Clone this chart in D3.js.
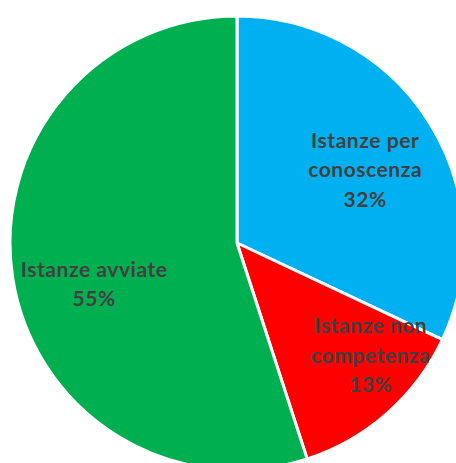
<!DOCTYPE html>
<html>
<head>
<meta charset="utf-8">
<script src="https://cdn.jsdelivr.net/npm/d3@7"></script>
<style>
  html, body { margin: 0; padding: 0; background: #ffffff; overflow: hidden; }
  svg { display: block; }
</style>
</head>
<body>
<svg id="chart" width="456" height="463"></svg>
<script>
// Slices, clockwise from 12 o'clock
const categories = ["Istanze per conoscenza", "Istanze non competenza", "Istanze avviate"];
const labelLines = [["Istanze per", "conoscenza"], ["Istanze non", "competenza"], ["Istanze avviate"]];
const values = [32, 13, 55];
const colors = ["#00b0f0", "#ff0000", "#00b050"];

const width = 456, height = 463;
const cx = 237, cy = 243, radius = 227;

// Label placement: radial fraction and angular nudge (radians) per slice
const labelRadius = [0.65, 0.77, 0.655];
const labelAngleShift = [0.047, -0.148, -0.124];

const svg = d3.select("#chart");
const g = svg.append("g").attr("transform", `translate(${cx},${cy})`);

const pie = d3.pie().value(d => d).sort(null);
const arcs = pie(values);
const arc = d3.arc().innerRadius(0).outerRadius(radius);

g.selectAll("path.slice")
  .data(arcs)
  .join("path")
  .attr("class", "slice")
  .attr("d", arc)
  .attr("fill", (d, i) => colors[i])
  .attr("stroke", "#ffffff")
  .attr("stroke-width", 3)
  .attr("stroke-linejoin", "round");

const fmt = v => `${Math.round(v / d3.sum(values) * 100)}%`;

const labels = g.selectAll("text.label")
  .data(arcs)
  .join("text")
  .attr("class", "label")
  .attr("text-anchor", "middle")
  .attr("font-family", "Lato, 'Open Sans', sans-serif")
  .attr("font-weight", "bold")
  .attr("font-size", 21)
  .attr("letter-spacing", 0.55)
  .attr("fill", "#404040")
  .attr("transform", (d, i) => {
    const a = (d.startAngle + d.endAngle) / 2 + labelAngleShift[i];
    const r = radius * labelRadius[i];
    return `translate(${r * Math.sin(a)},${-r * Math.cos(a)})`;
  });

labels.each(function(d, i) {
  const lines = labelLines[i].concat([fmt(d.data)]);
  const lh = 29.5;
  const t = d3.select(this);
  lines.forEach((s, k) => {
    t.append("tspan")
      .attr("x", 0)
      .attr("y", (k - (lines.length - 1) / 2) * lh)
      .attr("dy", "0.35em")
      .text(s);
  });
});
</script>
</body>
</html>
